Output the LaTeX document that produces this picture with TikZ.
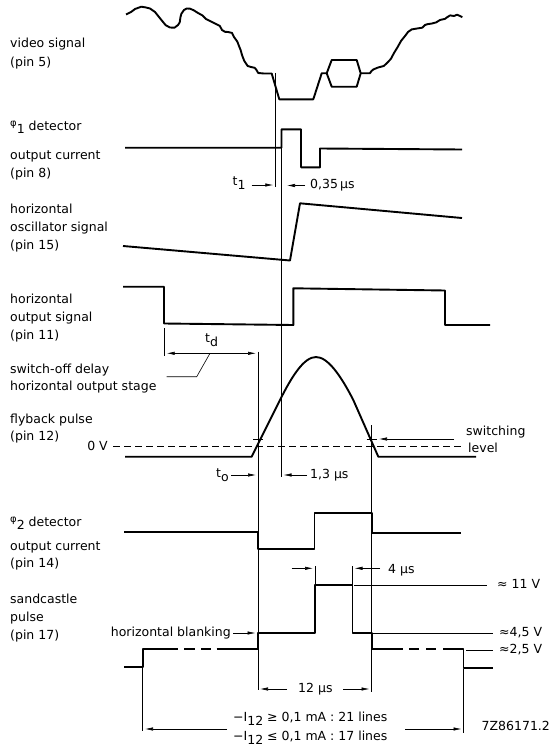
\documentclass[tikz,border=0pt]{standalone}
\usepackage{fontspec}
\setmainfont{DejaVu Sans}
\usetikzlibrary{arrows.meta}
\newcommand{\smallphi}{{\fontsize{10}{12}\selectfont φ}}
\begin{document}
\begin{tikzpicture}[x=1pt,y=-1pt,
  sig/.style={line width=1.9pt, line join=round},
  thinl/.style={line width=0.6pt},
  arr/.style={line width=0.6pt,-{Latex[length=8pt,width=3.4pt]}},
  darr/.style={line width=0.6pt,{Latex[length=8pt,width=3.4pt]}-{Latex[length=8pt,width=3.4pt]}},
  lab/.style={anchor=west, inner sep=0pt, font=\fontsize{12.5}{14}\selectfont, text height=9pt, text depth=2.5pt},
  labe/.style={lab, anchor=east},
]
\useasboundingbox (0,0) rectangle (552,752);

% ---------------- left labels ----------------
\node[lab] (l1a) at (10,44) {video signal};
\node[lab] (l1b) at (10,63) {(pin 5)};
\node[lab] (l2a) at (10,127) {\raisebox{4pt}{\smallphi}\raisebox{-3pt}{1} detector};
\node[lab] (l2b) at (10,156) {output current};
\node[lab] (l2c) at (10,174) {(pin 8)};
\node[lab] (l3a) at (10,210) {horizontal};
\node[lab] (l3b) at (10,228) {oscillator signal};
\node[lab] (l3c) at (10,246) {(pin 15)};
\node[lab] (l4a) at (10,300) {horizontal};
\node[lab] (l4b) at (10,318) {output signal};
\node[lab] (l4c) at (10,336) {(pin 11)};
\node[lab] (l5a) at (10,370) {switch-off delay};
\node[lab] (l5b) at (10,387) {horizontal output stage};
\node[lab] (l6a) at (10,420) {flyback pulse};
\node[lab] (l6b) at (10,437) {(pin 12)};
\node[labe] (zero) at (108,447) {0 V};
\node[lab] (l7a) at (10,523) {\raisebox{4pt}{\smallphi}\raisebox{-3pt}{2} detector};
\node[lab] (l7b) at (10,547) {output current};
\node[lab] (l7c) at (10,564) {(pin 14)};
\node[lab] (l8a) at (10,600) {sandcastle};
\node[lab] (l8b) at (10,618) {pulse};
\node[lab] (l8c) at (10,636) {(pin 17)};

% ---------------- video signal ----------------
\draw[sig] (126,14.5) -- (131,12) -- (135,9) -- (141.3,6.7) -- (146,7.5) -- (150,8.5) -- (155,12) -- (160.5,18.9) -- (165.7,25.2) -- (170,27.5) -- (174.5,27.7) -- (178,25) -- (179.7,22.4) -- (180.5,17) -- (181.4,13.7) -- (184,10) -- (186.7,8.5) -- (190,8.7) -- (193.6,10.2) -- (198,13) -- (202.4,15.4) -- (206,19) -- (209.3,20.7) -- (214,23) -- (219.8,25.9) -- (222,30) -- (225,31.8) -- (228,32) -- (232,32.9) -- (234,37) -- (237.3,41.6) -- (239,46) -- (240.7,50.3) -- (242,55) -- (244.2,60.8) -- (247.7,66) -- (251,67) -- (254.7,67.8) -- (256.5,70) -- (258.2,73) -- (264,73.5) -- (271.7,73.5) -- (279.3,99.3) -- (313.3,99.3) -- (321.7,73.3) -- (326.7,73.3);
\draw[sig] (326.7,73.3) -- (331.7,60) -- (356.7,60) -- (360.7,73.3) -- (356.7,86.7) -- (331.7,86.7) -- cycle;
\draw[sig] (360.7,73.3) -- (369.9,73.3) -- (371.5,71) -- (373.3,69.5) -- (378,67.5) -- (383.8,66) -- (387,63) -- (390.8,59) -- (394,53) -- (397.8,46.8) -- (401,41) -- (404.7,36.4) -- (408,32) -- (411.7,29.4) -- (417,28.5) -- (422.2,27.7) -- (425,25) -- (427.4,24.2) -- (432,23.5) -- (436.1,22.4) -- (440,20) -- (444.9,18.9) -- (447.5,17) -- (450.1,15.4) -- (454,16) -- (457.1,14.7) -- (460,16) -- (462.3,17.2);

% ---------------- phi1 detector ----------------
\draw[sig] (125,147.7) -- (281.5,147.7) -- (281.5,129.3) -- (301,129.3) -- (301,167.3) -- (320,167.3) -- (320,148.5) -- (462,149.5);

% ---------------- oscillator ----------------
\draw[sig] (123,246) -- (290,260.5) -- (300,203.3) -- (462,218);

% ---------------- horizontal output ----------------
\draw[sig] (123,286.7) -- (164,286.7) -- (164,323.5) -- (293.3,325) -- (293.3,288.3) -- (445,290.5) -- (445,325) -- (490,325);

% ---------------- flyback ----------------
\draw[sig] (125,456.7) -- (251.7,456.7) -- (280,400) .. controls (292,376) and (304,357) .. (316,357) .. controls (328,357) and (341,376) .. (353.3,400) -- (378.3,456.7) -- (476,456.7);
\draw[thinl, dash pattern=on 7pt off 4pt] (113,446.7) -- (461,446.7);
\draw[thinl] (253.3,439.3) -- (263.3,439.3);
\draw[thinl] (366.7,439.3) -- (376.7,439.3);

% ---------------- phi2 detector ----------------
\draw[sig] (124,531.7) -- (257.7,531.7) -- (257.7,549.3) -- (314.5,549.3) -- (314.5,512.7) -- (371.7,512.7) -- (371.7,532.7) -- (460.6,532.7);

% ---------------- sandcastle ----------------
\draw[sig] (124,667) -- (142.7,667) -- (142.7,649.3) -- (178.3,649.3);
\draw[sig] (184,649.3) -- (195,649.3);
\draw[sig] (201,649.3) -- (211,649.3);
\draw[sig] (216.7,649.3) -- (257.7,649.3) -- (257.7,633.3) -- (315,633.3) -- (315,585) -- (352.5,585) -- (352.5,633.3) -- (371.7,633.3) -- (371.7,649.3) -- (403.3,649.3);
\draw[sig] (409,649.3) -- (418.5,649.3);
\draw[sig] (426,649.3) -- (435.5,649.3);
\draw[sig] (443,649.3) -- (463.5,649.3) -- (463.5,668) -- (492.7,668);

% ---------------- thin reference lines ----------------
\draw[thinl] (275.7,73) -- (275.7,187);
\draw[thinl] (281.5,148) -- (281.5,477);
\draw[thinl] (164,328) -- (164,356);
\draw[thinl] (258,351.7) -- (258,690);
\draw[thinl] (371.7,425) -- (371.7,692);
\draw[thinl] (315,566) -- (315,585);
\draw[thinl] (352.5,566) -- (352.5,585);
\draw[thinl] (354,585) -- (487,585);
\draw[thinl] (373,633.3) -- (493,633.3);
\draw[thinl] (466,650) -- (493,650);
\draw[thinl] (142.7,667) -- (142.7,731);
\draw[thinl] (463.5,669) -- (463.5,733);
\draw[thinl] (166.7,376.7) -- (196.7,376.7) -- (210,353.3);

% ---------------- arrows and timing labels ----------------
\node[lab] (t1) at (232.5,182) {t\raisebox{-4pt}{1}};
\draw[arr] (251.7,185) -- (273.3,185);
\draw[arr] (305,185.5) -- (287,185.5);
\node[lab] (t035) at (310,185.5) {0,35\,µs};

\node[lab] (td) at (205,339) {t\raisebox{-4pt}{d}};
\draw[darr] (166.7,353.3) -- (256,353.3);

\draw[arr] (454,439) -- (379,439);
\node[lab] (sw1) at (466,432) {switching};
\node[lab] (sw2) at (468,449) {level};

\node[lab] (t0) at (216,474) {t\raisebox{-4pt}{o}};
\draw[arr] (231,475) -- (256,475);
\draw[arr] (307,475) -- (283.5,475);
\node[lab] (t13) at (310,475) {1,3 µs};

\draw[arr] (291.7,568.3) -- (313,568.3);
\draw[arr] (380,568.3) -- (354.5,568.3);
\node[lab] (t4) at (388,570) {4 µs};

\node[lab] (v11) at (497,585) {≈ 11 V};
\node[lab] (v45) at (499,633) {≈4,5 V};
\node[lab] (v25) at (499,650.5) {≈2,5 V};

\node[labe] (hb) at (231,633) {horizontal blanking};
\draw[arr] (233,633) -- (255.5,633);

\draw[arr] (287,689) -- (260,689);
\node[lab] (t12) at (298,689) {12 µs};
\draw[arr] (343,689) -- (369.5,689);

\node[lab] (i21) at (233,718) {−I\raisebox{-4pt}{12} ≥ 0,1 mA : 21 lines};
\node[lab] (i17) at (233,737) {−I\raisebox{-4pt}{12} ≤ 0,1 mA : 17 lines};
\draw[arr] (227,729) -- (145,729);
\draw[arr] (405,729) -- (461.5,729);
\node[lab] (code) at (481.5,727) {7Z86171.2};
\end{tikzpicture}
\end{document}
